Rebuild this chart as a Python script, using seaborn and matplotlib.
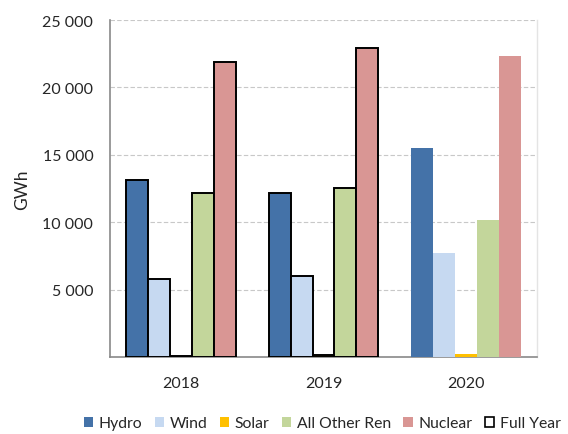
import matplotlib
matplotlib.use("Agg")
import matplotlib.pyplot as plt
import matplotlib.ticker as mticker
from matplotlib.patches import Patch
import seaborn as sns
import pandas as pd

years = ["2018", "2019", "2020"]
sources = ["Hydro", "Wind", "Solar", "All Other Ren", "Nuclear"]
hydro = [13100, 12200, 15500]
wind = [5800, 6000, 7750]
solar = [100, 150, 200]
other_ren = [12150, 12550, 10200]
nuclear = [21850, 22900, 22350]
full_year = ["2018", "2019"]
colors = ["#4472A8", "#C6D9F1", "#FFC000", "#C3D69B", "#D99694"]
ytick_vals = [0, 5000, 10000, 15000, 20000, 25000]

rows = []
for name, vals in zip(sources, [hydro, wind, solar, other_ren, nuclear]):
    for y, v in zip(years, vals):
        rows.append({"Year": y, "Source": name, "GWh": v})
df = pd.DataFrame(rows)

sns.set_style("white")
plt.rcParams["font.family"] = ["Lato", "DejaVu Sans"]

fig = plt.figure(figsize=(5.68, 4.35), dpi=100)
ax = fig.add_axes([0.1937, 0.177, 0.7518, 0.7747])

sns.barplot(data=df, x="Year", y="GWh", hue="Source", order=years,
            hue_order=sources, palette=colors, width=0.77, gap=0,
            saturation=1, errorbar=None, ax=ax, legend=False, zorder=3)

# Black outlines for the full-year bars
for p in ax.patches:
    cx = p.get_x() + p.get_width() / 2
    yi = int(round(cx))
    if years[yi] in full_year:
        p.set_edgecolor("black")
        p.set_linewidth(1.4)
    else:
        p.set_edgecolor("none")
        p.set_linewidth(0)

ax.set_xlim(-0.5, 2.5)
ax.set_ylim(0, 25000)
ax.set_yticks(ytick_vals)
ax.yaxis.set_major_formatter(mticker.FuncFormatter(
    lambda v, pos: "" if v == 0 else f"{int(v):,}".replace(",", " ")))
ax.set_xlabel("")
ax.set_ylabel("GWh", fontsize=12.5, labelpad=9)

for yv in ytick_vals[1:]:
    ax.axhline(yv, color="#C8C8C8", lw=0.8, ls=(0, (4, 2)), zorder=1)

ax.set_xticks([0, 1, 2])
ax.set_xticks([-0.5, 0.5, 1.5, 2.5], minor=True)
ax.tick_params(axis="x", which="major", length=0, labelsize=11.5, pad=14)
ax.tick_params(axis="x", which="minor", length=6, width=1, color="#898989", direction="out")
ax.tick_params(axis="y", which="major", length=6, width=1, color="#898989",
               direction="out", labelsize=11.5, pad=6)

for s in ["left", "bottom"]:
    ax.spines[s].set_color("#898989")
    ax.spines[s].set_linewidth(1.2)
ax.spines["top"].set_visible(False)
ax.spines["right"].set_color("#E4E4E4")
ax.spines["right"].set_linewidth(1)

handles = [Patch(facecolor=c, edgecolor="none", label=s) for c, s in zip(colors, sources)]
handles.append(Patch(facecolor="white", edgecolor="black", linewidth=1.2, label="Full Year"))
fig.legend(handles=handles, loc="center", bbox_to_anchor=(0.567, 0.025), ncol=6,
           frameon=False, fontsize=11.3, handlelength=0.6, handleheight=0.6,
           handletextpad=0.36, columnspacing=0.78, borderpad=0, borderaxespad=0)

fig.savefig("out.png", dpi=100)
